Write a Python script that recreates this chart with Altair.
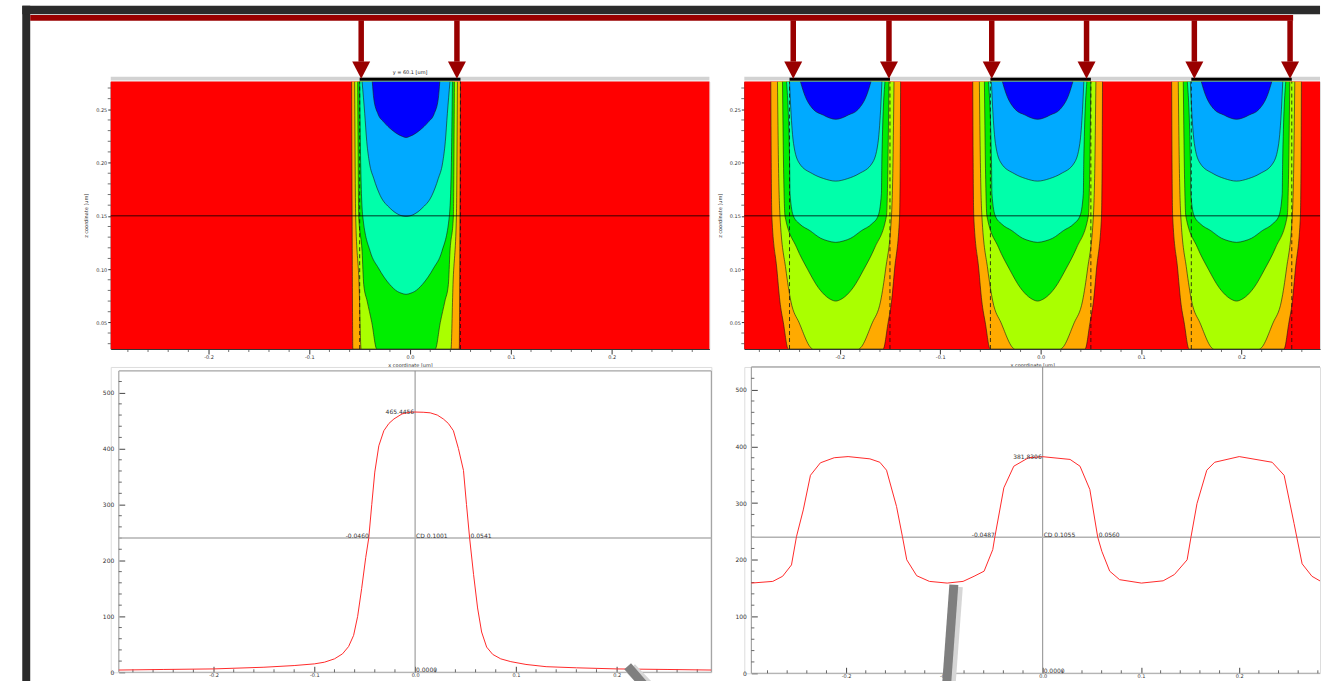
import altair as alt
import pandas as pd

# ============================== DATA ==============================
LEVEL_COLORS = ["#ffaa00", "#aaff00", "#00ee00", "#00ffaa", "#00aaff", "#0000ff"]

# ---- left contour panel (single opening) : z [um] and half-width [um] of each level ----
left_centers = [-0.004]
left_mask_edges = [-0.05, 0.05]
left_arrow_x = [-0.0485, 0.0465]
left_orange_z = [0.276, 0.15, 0.025]
left_orange_hw = [0.054, 0.0535, 0.0528]
left_yellow_z = [0.276, 0.15, 0.0856, 0.025]
left_yellow_hw = [0.051, 0.050, 0.0466, 0.0446]
left_green_z = [0.276, 0.2, 0.15, 0.1164, 0.0856, 0.07, 0.05, 0.025]
left_green_hw = [0.048, 0.0475, 0.047, 0.0436, 0.042, 0.0386, 0.034, 0.029]
left_aqua_z = [0.276, 0.2, 0.15, 0.1164, 0.101, 0.0856, 0.079, 0.0775, 0.0763]
left_aqua_hw = [0.046, 0.045, 0.043, 0.0355, 0.0274, 0.0162, 0.0085, 0.005, 0.0]
left_lblue_z = [0.276, 0.246, 0.22, 0.1997, 0.185, 0.169, 0.157, 0.1515, 0.1494]
left_lblue_hw = [0.0436, 0.041, 0.039, 0.0363, 0.032, 0.0256, 0.0157, 0.008, 0.0]
left_blue_z = [0.276, 0.26, 0.246, 0.238, 0.2306, 0.226, 0.2245, 0.2235]
left_blue_hw = [0.0335, 0.032, 0.028, 0.022, 0.014, 0.007, 0.0035, 0.0]

# ---- right contour panel (three openings) ----
right_centers = [-0.204, -0.003, 0.195]
right_mask_edges = [-0.25, -0.15, -0.05, 0.05, 0.15, 0.25]
right_arrow_x = [-0.2463, -0.151, -0.0487, 0.0457, 0.153, 0.2483]
right_orange_z = [0.276, 0.2, 0.15, 0.1, 0.07, 0.0496, 0.025]
right_orange_hw = [0.0646, 0.0642, 0.0636, 0.0586, 0.0556, 0.0521, 0.0472]
right_yellow_z = [0.276, 0.2, 0.15, 0.1, 0.07, 0.0496, 0.025]
right_yellow_hw = [0.058, 0.057, 0.0555, 0.0497, 0.0447, 0.0364, 0.0224]
right_green_z = [0.276, 0.1996, 0.15, 0.1204, 0.1, 0.0827, 0.074, 0.0715, 0.070]
right_green_hw = [0.053, 0.052, 0.0505, 0.039, 0.0281, 0.0174, 0.009, 0.005, 0.0]
right_aqua_z = [0.276, 0.1996, 0.1708, 0.15, 0.1425, 0.1361, 0.129, 0.1265, 0.1251]
right_aqua_hw = [0.049, 0.0459, 0.0455, 0.0422, 0.036, 0.0256, 0.015, 0.008, 0.0]
right_lblue_z = [0.276, 0.25, 0.2179, 0.1996, 0.1896, 0.185, 0.1826]
right_lblue_hw = [0.046, 0.0447, 0.042, 0.0364, 0.0232, 0.012, 0.0]
right_blue_z = [0.276, 0.265, 0.25, 0.2446, 0.2418, 0.2406]
right_blue_hw = [0.0351, 0.0315, 0.0224, 0.0124, 0.006, 0.0]

cut_z = 0.15
section_label = "y = 60.1 [um]"

# ---- intensity profiles along the cut line ----
left_profile_x = [-0.294, -0.25, -0.2, -0.15, -0.12, -0.1, -0.09, -0.08, -0.072, -0.066,
                  -0.061, -0.057, -0.053, -0.049, -0.046, -0.043, -0.040, -0.036, -0.031, -0.026,
                  -0.021, -0.013, -0.006, 0.0, 0.008, 0.015, 0.022, 0.028, 0.033, 0.038,
                  0.043, 0.048, 0.051, 0.0541, 0.058, 0.062, 0.066, 0.071, 0.077, 0.085,
                  0.095, 0.11, 0.13, 0.16, 0.2, 0.25, 0.294]
left_profile_i = [4, 5, 6, 9, 12, 15, 18, 24, 33, 46,
                  66, 100, 150, 205, 240, 300, 358, 405, 432, 445,
                  453, 462, 465, 465.4, 465, 464, 460, 453, 445, 432,
                  400, 361, 300, 240, 175, 115, 72, 45, 32, 24,
                  19, 14, 10, 8, 6, 5, 4]
right_profile_x = [-0.2964, -0.2746, -0.2646, -0.2556, -0.2505, -0.2436, -0.2363, -0.2262, -0.2121, -0.198,
                   -0.1758, -0.1657, -0.1589, -0.1487, -0.1427, -0.1383, -0.1282, -0.1153, -0.0972, -0.081,
                   -0.0698, -0.0596, -0.0508, -0.0487, -0.0395, -0.0294, -0.0144, 0.0, 0.0279, 0.038,
                   0.048, 0.056, 0.0602, 0.0682, 0.0783, 0.1005, 0.1226, 0.134, 0.147, 0.151,
                   0.157, 0.167, 0.175, 0.2, 0.2335, 0.2457, 0.2558, 0.264, 0.274, 0.283, 0.2934]
right_profile_i = [159, 162, 171, 191, 241, 288, 349, 371, 380, 382,
                   378, 372, 358, 294, 241, 200, 172, 162, 159, 162,
                   171, 180, 218, 240, 327, 365, 380, 381.8, 377, 365,
                   324, 240, 215, 180, 165, 159, 163, 174, 200, 241,
                   299, 358, 372, 382, 372, 349, 264, 193, 171, 162, 159]

threshold = 240
zero_label = "0.0000"
left_peak_value, left_peak_label = 465.4456, "465.4456"
left_edges, left_edge_labels, left_cd_label = [-0.0460, 0.0541], ["-0.0460", "0.0541"], "CD 0.1001"
right_peak_value, right_peak_label = 381.8306, "381.8306"
right_edges, right_edge_labels, right_cd_label = [-0.0487, 0.0560], ["-0.0487", "0.0560"], "CD 0.1055"

# pointer sticks seen over the lower panels: (x, intensity) start -> end
left_pointer = [0.2109, 10.7, 0.2307, -30.2]
right_pointer = [-0.0904, 156, -0.0981, -28.0]

# ============================== STYLE / SCALES ==============================
FONT = "DejaVu Sans"
DARK_RED = "#990000"
FRAME_DARK = "#2b2b2b"
MINUS_FIX = "replace(datum.label, '\u2212', '-')"
Z_TOP = 0.276

XL = alt.Scale(domain=[-0.297, 0.297], nice=False, zero=False)
XR = alt.Scale(domain=[-0.295, 0.2781], nice=False, zero=False)
ZS = alt.Scale(domain=[0.025, Z_TOP], nice=False, zero=False)
PXL = alt.Scale(domain=[-0.302, 0.294], nice=False, zero=False)
PXR = alt.Scale(domain=[-0.3036, 0.2822], nice=False, zero=False)
PYL = alt.Scale(domain=[0, 546], nice=False, zero=False)
PYR = alt.Scale(domain=[0, 540], nice=False, zero=False)

# decoration heights expressed in contour z units (above the plotted range)
Z_FRAME = (0.3393, 0.3472)
Z_BAR = (0.3331, 0.3385)
Z_STEM = (0.2947, 0.3335)
Z_HEAD = 0.2867
Z_STRIP = 0.2788
Z_TITLE = 0.2854
Z_FRAME_BOTTOM = -0.3047


def level_frame(centers, zs, hws):
    rows = []
    for i, c in enumerate(centers):
        for z, hw in zip(zs, hws):
            rows.append({"id": i, "x": c - hw, "z": z})
        for z, hw in reversed(list(zip(zs, hws))):
            if hw > 0:
                rows.append({"id": i, "x": c + hw, "z": z})
    df = pd.DataFrame(rows)
    df["top"] = Z_TOP
    return df


def contour_panel(xs, xmin, xmax, centers, levels, mask_edges, arrow_x, width, left):
    ax_x = alt.Axis(values=[-0.2, -0.1, 0.0, 0.1, 0.2], format=".1f", labelExpr=MINUS_FIX,
                    tickSize=5, tickColor="#333", domainColor="#333", labelFontSize=5,
                    labelFont=FONT, labelColor="#333", labelPadding=1, grid=False,
                    title="x coordinate [um]", titleFontSize=5, titleFont=FONT,
                    titleFontWeight="normal", titleColor="#333", titlePadding=3)
    ax_y = alt.Axis(values=[0.05, 0.10, 0.15, 0.20, 0.25], format=".2f", tickSize=3,
                    tickColor="#333", domainColor="#333", labelFontSize=5, labelFont=FONT,
                    labelColor="#333", labelPadding=1, grid=False,
                    title="z coordinate [um]", titleFontSize=5, titleFont=FONT,
                    titleFontWeight="normal", titleColor="#333", titlePadding=7)

    def X(f):
        return alt.X(f, scale=xs, axis=ax_x)

    def Y(f):
        return alt.Y(f, scale=ZS, axis=ax_y)

    layers = []
    bg = pd.DataFrame({"xa": [xmin], "xb": [xmax], "za": [0.025], "zb": [Z_TOP]})
    layers.append(alt.Chart(bg).mark_rect(color="#ff0000").encode(
        x=X("xa:Q"), x2="xb:Q", y=Y("za:Q"), y2="zb:Q"))
    for color, (zs, hws) in zip(LEVEL_COLORS, levels):
        df = level_frame(centers, zs, hws)
        layers.append(alt.Chart(df).mark_area(
            orient="vertical", color=color, interpolate="monotone", clip=True, opacity=1).encode(
            x=X("x:Q"), y=alt.Y("z:Q", scale=ZS, axis=ax_y, stack=False), y2="top:Q",
            detail="id:N"))
        layers.append(alt.Chart(df).mark_line(
            color="#1a1a1a", strokeWidth=0.6, interpolate="monotone", clip=True).encode(
            x=X("x:Q"), y=Y("z:Q"), detail="id:N"))
    # mask-edge dashed lines
    layers.append(alt.Chart(pd.DataFrame({"x": mask_edges, "za": 0.025, "zb": Z_TOP})).mark_rule(
        color="#111", strokeWidth=0.8, strokeDash=[4, 3]).encode(
        x=X("x:Q"), y=Y("za:Q"), y2="zb:Q"))
    # cut line
    layers.append(alt.Chart(pd.DataFrame({"xa": [xmin], "xb": [xmax], "z": [cut_z]})).mark_rule(
        color="#000", strokeWidth=0.8).encode(x=X("xa:Q"), x2="xb:Q", y=Y("z:Q")))
    # minor ticks
    minor_z = [round(0.01 * k, 2) for k in range(3, 28) if k % 5 != 0]
    layers.append(alt.Chart(pd.DataFrame({"z": minor_z, "xa": xmin, "xb": xmin - 0.003})).mark_rule(
        color="#333", strokeWidth=0.7).encode(x=X("xa:Q"), x2="xb:Q", y=Y("z:Q")))
    minor_x = [round(0.02 * k, 2) for k in range(-14, 15) if k % 5 != 0 and xmin < 0.02 * k < xmax]
    layers.append(alt.Chart(pd.DataFrame({"x": minor_x, "za": 0.025, "zb": 0.0222})).mark_rule(
        color="#333", strokeWidth=0.7).encode(x=X("x:Q"), y=Y("za:Q"), y2="zb:Q"))
    # mask strip on top with black openings
    layers.append(alt.Chart(pd.DataFrame({"xa": [xmin], "xb": [xmax], "z": [Z_STRIP]})).mark_rule(
        color="#d2d2d2", strokeWidth=4).encode(x=X("xa:Q"), x2="xb:Q", y=Y("z:Q")))
    opens = pd.DataFrame({"xa": mask_edges[0::2], "xb": mask_edges[1::2], "z": Z_STRIP - 0.0005})
    layers.append(alt.Chart(opens).mark_rule(color="#000", strokeWidth=3).encode(
        x=X("xa:Q"), x2="xb:Q", y=Y("z:Q")))
    if left:
        frame = pd.DataFrame({"xa": [-0.3848, -0.3848], "xb": [-0.3769, 0.9029],
                              "za": [Z_FRAME_BOTTOM, Z_FRAME[0]], "zb": [Z_FRAME[1], Z_FRAME[1]]})
        layers.append(alt.Chart(frame).mark_rect(color=FRAME_DARK).encode(
            x=X("xa:Q"), x2="xb:Q", y=Y("za:Q"), y2="zb:Q"))
        bar = pd.DataFrame({"xa": [-0.3769], "xb": [0.8762], "za": [Z_BAR[0]], "zb": [Z_BAR[1]]})
        layers.append(alt.Chart(bar).mark_rect(color=DARK_RED).encode(
            x=X("xa:Q"), x2="xb:Q", y=Y("za:Q"), y2="zb:Q"))
        layers.append(alt.Chart(pd.DataFrame({"x": [0.0], "z": [Z_TITLE], "t": [section_label]})).mark_text(
            font=FONT, fontSize=5, color="#222", baseline="middle").encode(
            x=X("x:Q"), y=Y("z:Q"), text="t:N"))
    stems = pd.DataFrame({"x": arrow_x, "za": Z_STEM[0], "zb": Z_STEM[1]})
    layers.append(alt.Chart(stems).mark_rule(color=DARK_RED, strokeWidth=5.5, strokeCap="butt").encode(
        x=X("x:Q"), y=Y("za:Q"), y2="zb:Q"))
    heads = pd.DataFrame({"x": arrow_x, "z": Z_HEAD})
    layers.append(alt.Chart(heads).mark_point(
        shape="M-1,-0.96L1,-0.96L0,0.96Z", size=324, filled=True, color=DARK_RED,
        opacity=1, strokeWidth=0).encode(x=X("x:Q"), y=Y("z:Q")))
    return alt.layer(*layers).properties(width=width, height=268)


def profile_panel(xs, ys, fx0, fx1, ftop, yoff, width, height, px, pi, peak_v, peak_t,
                  edges, edge_t, cd_t, pointer, ux, uy, right_edge):
    ax_y = alt.Axis(values=[0, 100, 200, 300, 400, 500], format="d", tickSize=6, offset=yoff,
                    domain=False, tickColor="#444", labelFontSize=6, labelFont=FONT,
                    labelColor="#333", labelPadding=5, grid=False, title=None)
    ax_x = alt.Axis(values=[-0.2, -0.1, 0.0, 0.1, 0.2], format=".1f", labelExpr=MINUS_FIX,
                    tickSize=6, offset=-6, domain=False, tickColor="#444", labelFontSize=5,
                    labelFont=FONT, labelColor="#333", labelPadding=0.5, grid=False, title=None)

    def X(f):
        return alt.X(f, scale=xs, axis=ax_x)

    def Y(f):
        return alt.Y(f, scale=ys, axis=ax_y)

    layers = []
    # frame sides (left, top, bottom, optional right)
    fr = pd.DataFrame({"xa": [fx0, fx0, fx0], "xb": [fx0, fx1, fx1], "ya": [0, ftop, 0], "yb": [ftop, ftop, 0]})
    if right_edge:
        fr = pd.concat([fr, pd.DataFrame({"xa": [fx1], "xb": [fx1], "ya": [0], "yb": [ftop]})])
    layers.append(alt.Chart(fr).mark_rule(color="#a4a4a4", strokeWidth=1.2).encode(
        x=X("xa:Q"), x2="xb:Q", y=Y("ya:Q"), y2="yb:Q"))
    minor_y = [v for v in range(20, 540, 20) if v % 100 != 0 and v < ftop]
    layers.append(alt.Chart(pd.DataFrame({"y": minor_y, "xa": fx0, "xb": fx0 + 3 * ux})).mark_rule(
        color="#444", strokeWidth=0.8).encode(x=X("xa:Q"), x2="xb:Q", y=Y("y:Q")))
    minor_x = [round(0.02 * k, 2) for k in range(-14, 15) if k % 5 != 0 and fx0 < 0.02 * k < fx1]
    layers.append(alt.Chart(pd.DataFrame({"x": minor_x, "ya": 0, "yb": 3 * uy})).mark_rule(
        color="#444", strokeWidth=0.8).encode(x=X("x:Q"), y=Y("ya:Q"), y2="yb:Q"))
    layers.append(alt.Chart(pd.DataFrame({"x": [0.0], "ya": [0], "yb": [ftop]})).mark_rule(
        color="#8c8c8c", strokeWidth=1).encode(x=X("x:Q"), y=Y("ya:Q"), y2="yb:Q"))
    layers.append(alt.Chart(pd.DataFrame({"xa": [fx0], "xb": [fx1], "y": [threshold]})).mark_rule(
        color="#b2b2b2", strokeWidth=1.5).encode(x=X("xa:Q"), x2="xb:Q", y=Y("y:Q")))
    layers.append(alt.Chart(pd.DataFrame({"x": px, "i": pi})).mark_line(
        color="#ff2a2a", strokeWidth=1, clip=True).encode(x=X("x:Q"), y=Y("i:Q"), order=alt.Order("x:Q")))
    tstyle = dict(font=FONT, fontSize=6, color="#333")
    layers.append(alt.Chart(pd.DataFrame({"x": [0.0], "y": [peak_v], "t": [peak_t]})).mark_text(
        align="right", baseline="middle", dx=-1, **tstyle).encode(x=X("x:Q"), y=Y("y:Q"), text="t:N"))
    layers.append(alt.Chart(pd.DataFrame({"x": [edges[0]], "y": [threshold], "t": [edge_t[0]]})).mark_text(
        align="right", baseline="alphabetic", dy=-0.5, **tstyle).encode(x=X("x:Q"), y=Y("y:Q"), text="t:N"))
    lt = pd.DataFrame({"x": [0.0, edges[1], 0.0], "y": [threshold, threshold, 0],
                       "t": [cd_t, edge_t[1], zero_label]})
    layers.append(alt.Chart(lt).mark_text(
        align="left", baseline="alphabetic", dx=1, dy=-0.5, **tstyle).encode(
        x=X("x:Q"), y=Y("y:Q"), text="t:N"))
    pdf = pd.DataFrame({"xa": [pointer[0]], "ya": [pointer[1]], "xb": [pointer[2]], "yb": [pointer[3]]})
    shadow = pd.DataFrame({"xa": [pointer[0] + 3 * ux], "ya": [pointer[1] - 2 * uy],
                           "xb": [pointer[2] + 3 * ux], "yb": [pointer[3]]})
    layers.append(alt.Chart(shadow).mark_rule(color="#d6d6d6", strokeWidth=12, strokeCap="butt").encode(
        x=X("xa:Q"), y=Y("ya:Q"), x2="xb:Q", y2="yb:Q"))
    layers.append(alt.Chart(pdf).mark_rule(color="#7f7f7f", strokeWidth=9, strokeCap="butt").encode(
        x=X("xa:Q"), y=Y("ya:Q"), x2="xb:Q", y2="yb:Q"))
    return alt.layer(*layers).properties(width=width, height=height)


left_levels = [(left_orange_z, left_orange_hw), (left_yellow_z, left_yellow_hw),
               (left_green_z, left_green_hw), (left_aqua_z, left_aqua_hw),
               (left_lblue_z, left_lblue_hw), (left_blue_z, left_blue_hw)]
right_levels = [(right_orange_z, right_orange_hw), (right_yellow_z, right_yellow_hw),
                (right_green_z, right_green_hw), (right_aqua_z, right_aqua_hw),
                (right_lblue_z, right_lblue_hw), (right_blue_z, right_blue_hw)]

cl = contour_panel(XL, -0.297, 0.297, left_centers, left_levels, left_mask_edges, left_arrow_x, 600, True)
cr = contour_panel(XR, -0.295, 0.2781, right_centers, right_levels, right_mask_edges, right_arrow_x, 577, False)
pl = profile_panel(PXL, PYL, -0.294, 0.294, 539, -14, 602, 306, left_profile_x, left_profile_i,
                   left_peak_value, left_peak_label, left_edges, left_edge_labels, left_cd_label,
                   left_pointer, 1 / 1010.0, 1 / 0.5623, True)
pr = profile_panel(PXR, PYR, -0.2964, 0.2822, 540, -13, 577, 307, right_profile_x, right_profile_i,
                   right_peak_value, right_peak_label, right_edges, right_edge_labels, right_cd_label,
                   right_pointer, 1 / 984.9, 1 / 0.5704, False)

chart = alt.concat(cl, cr, pl, pr, columns=2, spacing={"row": 18, "column": 33}, bounds="flush").properties(
    padding={"left": 21, "top": 4, "right": 0, "bottom": 0},
    background="#ffffff",
).configure_view(stroke=None).configure(font=FONT)

chart.save("out.html", embed_options={"renderer": "svg", "actions": False})
